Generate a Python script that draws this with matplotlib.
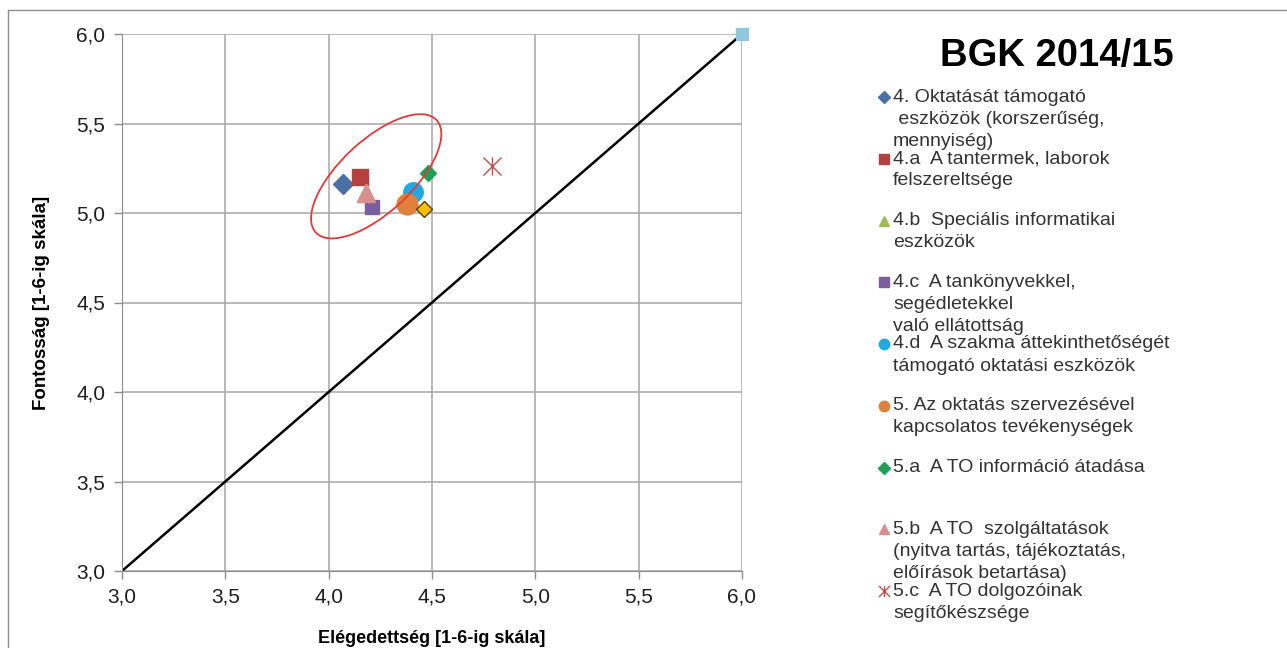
import matplotlib
matplotlib.use("Agg")
import matplotlib.pyplot as plt
from matplotlib.patches import Ellipse, Rectangle
from matplotlib.path import Path
from matplotlib.lines import Line2D
import matplotlib.transforms as mtransforms

plt.rcParams['font.family'] = ['Liberation Sans', 'DejaVu Sans']

# satisfaction (x) and importance (y), 1-6 scale
labels = [
    "4. Oktatását támogató\n eszközök (korszerűség,\nmennyiség)",
    "4.a  A tantermek, laborok\nfelszereltsége",
    "4.b  Speciális informatikai\neszközök",
    "4.c  A tankönyvekkel,\nsegédletekkel\nvaló ellátottság",
    "4.d  A szakma áttekinthetőségét\ntámogató oktatási eszközök",
    "5. Az oktatás szervezésével\nkapcsolatos tevékenységek",
    "5.a  A TO információ átadása",
    "5.b  A TO  szolgáltatások\n(nyitva tartás, tájékoztatás,\nelőírások betartása)",
    "5.c  A TO dolgozóinak\nsegítőkészsége",
]
satisfaction = [4.07, 4.15, 4.18, 4.21, 4.41, 4.38, 4.48, 4.18, 4.79]
importance = [5.16, 5.20, 5.11, 5.035, 5.12, 5.05, 5.225, 5.11, 5.26]

# extra points without legend entry
extra_x = [4.46, 6.0]
extra_y = [5.02, 6.0]

# reference diagonal
diag_x = [3.0, 6.0]
diag_y = [3.0, 6.0]

# excel-style star marker: X plus vertical bar
star = Path([(0, -1), (0, 1), (-1, -1), (1, 1), (-1, 1), (1, -1)],
            [Path.MOVETO, Path.LINETO, Path.MOVETO, Path.LINETO, Path.MOVETO, Path.LINETO])

styles = [
    dict(marker='D', color='#4A70A6', ms=10.5),
    dict(marker='s', color='#B5403F', ms=11.5),
    dict(marker='^', color='#9BBB59', ms=13),
    dict(marker='s', color='#7C5E9F', ms=10.5),
    dict(marker='o', color='#22A8E0', ms=14),
    dict(marker='o', color='#E0813B', ms=15),
    dict(marker='D', color='#1FA057', ms=8.5),
    dict(marker='^', color='#D8908F', ms=13),
    dict(marker=star, color='#C0504D', ms=13),
]
draw_order = [0, 1, 2, 8, 3, 4, 5, 6, 7]

fig = plt.figure(figsize=(12.87, 6.48), dpi=100)
fig.patch.set_facecolor('white')
ax = fig.add_axes([122 / 1287, 1 - 571 / 648, (742 - 122) / 1287, (571 - 34) / 648])

ax.plot(diag_x, diag_y, color='black', lw=1.8, zorder=2)

for i in draw_order:
    st = styles[i]
    if st['marker'] is star:
        ax.plot(satisfaction[i], importance[i], linestyle='none', marker=star,
                ms=st['ms'], mec=st['color'], mfc='none', mew=1.0, zorder=3)
    else:
        ax.plot(satisfaction[i], importance[i], linestyle='none', marker=st['marker'],
                ms=st['ms'], color=st['color'], mec=st['color'], zorder=3)

ax.plot(extra_x[0], extra_y[0], linestyle='none', marker='D', ms=8,
        mfc='#FFC000', mec='#4D4000', mew=1.0, zorder=4)
ax.plot(extra_x[1], extra_y[1], linestyle='none', marker='s', ms=8,
        color='#8FC7DC', zorder=4, clip_on=False)

# highlight ellipse (drawn in screen inches around a data centre)
ell_tr = fig.dpi_scale_trans + mtransforms.ScaledTranslation(4.23, 5.205, ax.transData)
ax.add_patch(Ellipse((0, 0), 1.65, 0.72, angle=43, transform=ell_tr,
                     fill=False, edgecolor='#E03A3A', lw=1.3, zorder=5))

ax.set_xlim(3, 6)
ax.set_ylim(3, 6)
ticks = [3.0, 3.5, 4.0, 4.5, 5.0, 5.5, 6.0]
ax.set_xticks(ticks)
ax.set_yticks(ticks)
ax.set_xticklabels([f"{t:.1f}".replace('.', ',') for t in ticks])
ax.set_yticklabels([f"{t:.1f}".replace('.', ',') for t in ticks])
ax.tick_params(direction='out', length=6, width=1, color='#8C8C8C',
               labelsize=15, pad=6, labelcolor='#1E1E1E')
ax.grid(True, color='#A6A6A6', lw=1.1)
ax.set_axisbelow(True)
for side in ['top', 'right']:
    ax.spines[side].set_visible(False)
for side in ['left', 'bottom']:
    ax.spines[side].set_color('#8C8C8C')

ax.set_xlabel('Elégedettség [1-6-ig skála]', fontsize=13, fontweight='bold', labelpad=17)
ax.set_ylabel('Fontosság [1-6-ig skála]', fontsize=13.5, fontweight='bold', labelpad=19)

fig.text(1057 / 1287, 1 - 56 / 648, 'BGK 2014/15', fontsize=27.5, fontweight='bold',
         ha='center', va='center')

# legend entries in fixed slots
for i, lab in enumerate(labels):
    yc = 97 + 61.75 * i
    st = styles[i]
    fig.text(893 / 1287, 1 - (yc - 8.5) / 648, lab, fontsize=14, ha='left', va='top',
             linespacing=1.4, color='#333333')
    if st['marker'] is star:
        m = Line2D([884 / 1287], [1 - yc / 648], transform=fig.transFigure, marker=star,
                   ms=8, mec=st['color'], mfc='none', mew=1.0, linestyle='none')
    else:
        m = Line2D([884 / 1287], [1 - yc / 648], transform=fig.transFigure,
                   marker=st['marker'], ms=7.5 if st['marker'] != 'D' else 6.5,
                   color=st['color'], linestyle='none')
    fig.add_artist(m)

# outer chart border
fig.add_artist(Rectangle((8 / 1287, -0.1), 1.2, 1 - 10 / 648 + 0.1,
                         transform=fig.transFigure, fill=False,
                         edgecolor='#8C8C8C', lw=1))

fig.savefig('out.png', dpi=100, facecolor='white')
